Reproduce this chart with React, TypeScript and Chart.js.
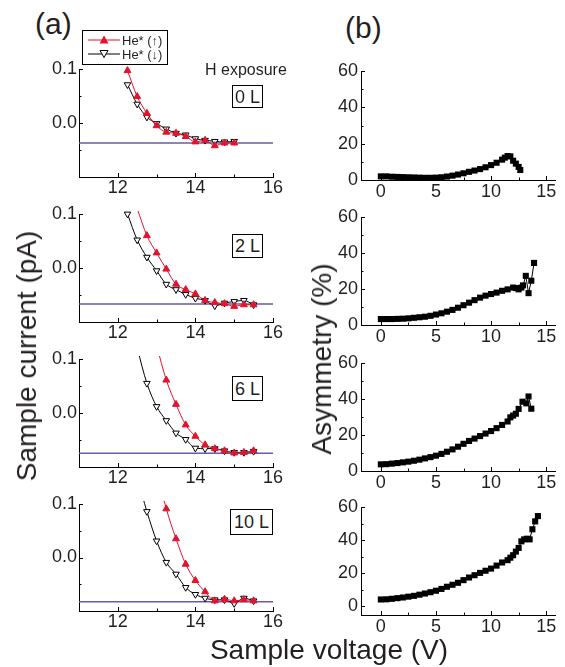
import React, { useEffect, useRef } from 'react';
import { Chart, registerables } from 'chart.js';

Chart.register(...registerables);

const FONT = '"Liberation Sans", Arial, Helvetica, sans-serif';
const TXT = '#231f20';
const RED = '#e3122d';
const PURPLE = '#6a5aa8';

// ---------- panel (a): sample current (pA) vs sample voltage (V) ----------
const voltsA0 = [12.25, 12.5, 12.75, 13.0, 13.25, 13.5, 13.75, 14.0, 14.25, 14.5, 14.75, 15.0];
const upA0 = [0.097, 0.049, 0.018, -0.005, -0.017, -0.019, -0.025, -0.035, -0.032, -0.042, -0.037, -0.037];
const downA0 = [0.071, 0.035, 0.011, -0.001, -0.011, -0.019, -0.022, -0.029, -0.032, -0.034, -0.035, -0.034];
const baseA0 = -0.037;

const voltsA2Down = [12.25, 12.5, 12.75, 13.0, 13.25, 13.5, 13.75, 14.0, 14.25, 14.5, 14.75, 15.0, 15.25, 15.5];
const downA2 = [0.1, 0.052, 0.02, -0.005, -0.03, -0.04, -0.049, -0.056, -0.06, -0.07, -0.065, -0.062, -0.06, -0.068];
const voltsA2Up = [12.5, 12.75, 13.0, 13.25, 13.5, 13.75, 14.0, 14.25, 14.5, 14.75, 15.0, 15.25, 15.5];
const upA2 = [0.11, 0.06, 0.028, -0.002, -0.03, -0.04, -0.048, -0.06, -0.064, -0.066, -0.071, -0.068, -0.068];
const baseA2 = -0.0667;

const voltsA6Down = [12.5, 12.75, 13.0, 13.25, 13.5, 13.75, 14.0, 14.25, 14.5, 14.75, 15.0, 15.25, 15.5];
const downA6 = [0.12, 0.055, 0.012, -0.014, -0.037, -0.049, -0.065, -0.066, -0.066, -0.07, -0.073, -0.073, -0.071];
const voltsA6Up = [13.0, 13.25, 13.5, 13.75, 14.0, 14.25, 14.5, 14.75, 15.0, 15.25, 15.5];
const upA6 = [0.125, 0.061, 0.016, -0.022, -0.043, -0.059, -0.066, -0.07, -0.074, -0.073, -0.07];
const baseA6 = -0.0745;

const voltsA10Down = [12.5, 12.75, 13.0, 13.25, 13.5, 13.75, 14.0, 14.25, 14.5, 14.75, 15.0, 15.25, 15.5];
const downA10 = [0.15, 0.086, 0.031, -0.009, -0.031, -0.056, -0.069, -0.076, -0.079, -0.079, -0.086, -0.076, -0.081];
const voltsA10Up = [13.0, 13.25, 13.5, 13.75, 14.0, 14.25, 14.5, 14.75, 15.0, 15.25, 15.5];
const upA10 = [0.16, 0.091, 0.035, -0.0125, -0.043, -0.064, -0.081, -0.078, -0.081, -0.079, -0.081];
const baseA10 = -0.0825;

const aXTicks = [12, 14, 16];
const aXMinor = [11, 13, 15];
const aYTicks = [0.0, 0.1];
const aYMinor = [-0.1, -0.05, 0.05];

// ---------- panel (b): asymmetry (%) vs sample voltage (V) ----------
const voltsB0 = [0, 0.5, 1, 1.5, 2, 2.5, 3, 3.5, 4, 4.5, 5, 5.5, 6, 6.5, 7, 7.5, 8, 8.5, 9, 9.5, 10, 10.5, 11, 11.25, 11.5, 11.75, 12.0, 12.25, 12.5, 12.65];
const asymB0 = [2.0, 2.0, 1.8, 1.7, 1.6, 1.5, 1.4, 1.3, 1.2, 1.2, 1.3, 1.5, 1.9, 2.4, 3.0, 3.7, 4.5, 5.2, 6.0, 7.0, 8.2, 9.5, 11.2, 12.3, 13.2, 13.0, 10.6, 9.0, 7.2, 5.5];

const voltsB2 = [0, 0.5, 1, 1.5, 2, 2.5, 3, 3.5, 4, 4.5, 5, 5.5, 6, 6.5, 7, 7.5, 8, 8.5, 9, 9.5, 10, 10.5, 11, 11.5, 12, 12.25, 12.5, 12.75, 12.9, 13.15, 13.4, 13.65, 13.9];
const asymB2 = [3.3, 3.3, 3.3, 3.4, 3.5, 3.7, 4.0, 4.3, 4.6, 5.1, 5.8, 6.5, 7.4, 8.4, 9.6, 11.0, 12.4, 13.8, 15.2, 16.3, 17.2, 18.0, 19.0, 19.8, 20.8, 20.5, 19.8, 20.8, 22.0, 27.3, 17.7, 24.6, 34.5];

const voltsB6 = [0, 0.5, 1, 1.5, 2, 2.5, 3, 3.5, 4, 4.5, 5, 5.5, 6, 6.5, 7, 7.5, 8, 8.5, 9, 9.5, 10, 10.5, 11, 11.5, 11.75, 12, 12.25, 12.5, 12.85, 13.2, 13.4, 13.65];
const asymB6 = [3.7, 3.8, 4.1, 4.4, 4.8, 5.2, 5.7, 6.3, 7.0, 7.7, 8.5, 9.5, 10.7, 12.0, 13.5, 15.1, 16.7, 18.0, 19.4, 20.8, 22.2, 23.8, 25.6, 27.5, 29.8, 30.8, 31.8, 34.5, 38.5, 37.6, 41.4, 34.6];

const voltsB10 = [0, 0.5, 1, 1.5, 2, 2.5, 3, 3.5, 4, 4.5, 5, 5.5, 6, 6.5, 7, 7.5, 8, 8.5, 9, 9.5, 10, 10.5, 11, 11.5, 11.75, 12, 12.25, 12.5, 12.75, 13.0, 13.25, 13.5, 13.75, 14.0, 14.25];
const asymB10 = [4.0, 4.1, 4.4, 4.8, 5.2, 5.7, 6.2, 6.9, 7.6, 8.4, 9.3, 10.4, 11.7, 12.9, 14.1, 15.7, 17.3, 18.7, 20.1, 21.4, 22.7, 24.5, 26.4, 27.8, 29.3, 30.8, 33.0, 35.2, 39.2, 40.4, 40.8, 40.4, 46.5, 51.3, 54.5];

const bXTicks = [0, 5, 10, 15];
const bXMinor = [2.5, 7.5, 12.5];
const bYTicks = [0, 20, 40, 60];
const bYMinor = [10, 30, 50];

const exposureLabels = ['0 L', '2 L', '6 L', '10 L'];

const toXY = (xs: number[], ys: number[]) => xs.map((x, i) => ({ x, y: ys[i] }));

// draws inward tick marks on the axes, using the chart's own scales
const innerTicks = {
  id: 'innerTicks',
  afterDraw(chart: any, _args: any, opts: any) {
    const { ctx, chartArea } = chart;
    const xs = chart.scales.x;
    const ys = chart.scales.y;
    ctx.save();
    ctx.strokeStyle = '#000';
    ctx.lineWidth = 1;
    const dx = (vals: number[], len: number) =>
      vals.forEach((v) => {
        const p = Math.round(xs.getPixelForValue(v)) + 0.5;
        ctx.beginPath();
        ctx.moveTo(p, chartArea.bottom);
        ctx.lineTo(p, chartArea.bottom - len);
        ctx.stroke();
      });
    const dy = (vals: number[], len: number) =>
      vals.forEach((v) => {
        const p = Math.round(ys.getPixelForValue(v)) + 0.5;
        ctx.beginPath();
        ctx.moveTo(chartArea.left, p);
        ctx.lineTo(chartArea.left + len, p);
        ctx.stroke();
      });
    dx(opts.xMajor || [], 4);
    dx(opts.xMinor || [], 2.5);
    dy(opts.yMajor || [], 4);
    dy(opts.yMinor || [], 2.5);
    ctx.restore();
  },
};

function axis(min: number, max: number, ticks: number[], fmt: (v: number) => string, pad: number, fit: (s: any) => void) {
  return {
    type: 'linear',
    min,
    max,
    grid: { display: false, drawTicks: false },
    border: { display: true, color: '#000', width: 1 },
    ticks: {
      font: { family: FONT, size: 18 },
      color: TXT,
      padding: pad,
      maxRotation: 0,
      autoSkip: false,
      callback: (v: any) => fmt(Number(v)),
    },
    afterBuildTicks: (s: any) => {
      s.ticks = ticks.map((value) => ({ value }));
    },
    afterFit: fit,
  };
}

function leftConfig(upX: number[], upY: number[], dnX: number[], dnY: number[], base: number) {
  const clip = { left: 0, right: 0, top: 3, bottom: 0 };
  return {
    type: 'line',
    data: {
      datasets: [
        {
          data: toXY(upX, upY),
          borderColor: RED,
          backgroundColor: RED,
          pointBackgroundColor: RED,
          pointBorderColor: RED,
          pointBorderWidth: 1,
          pointStyle: 'triangle',
          pointRadius: 4,
          borderWidth: 1,
          cubicInterpolationMode: 'monotone',
          clip,
        },
        {
          data: toXY(dnX, dnY),
          borderColor: '#000',
          backgroundColor: '#fff',
          pointBackgroundColor: '#fff',
          pointBorderColor: '#000',
          pointBorderWidth: 1,
          pointStyle: 'triangle',
          pointRotation: 180,
          pointRadius: 3.8,
          borderWidth: 1,
          cubicInterpolationMode: 'monotone',
          clip,
        },
        {
          data: [
            { x: 11, y: base },
            { x: 16, y: base },
          ],
          borderColor: PURPLE,
          borderWidth: 1.5,
          pointRadius: 0,
        },
      ],
    },
    options: {
      responsive: false,
      animation: false,
      events: [],
      layout: { padding: { left: 0, top: 15, right: 15, bottom: 0 } },
      plugins: {
        legend: { display: false },
        tooltip: { enabled: false },
        innerTicks: { xMajor: aXTicks, xMinor: aXMinor, yMajor: aYTicks, yMinor: aYMinor },
      },
      scales: {
        x: axis(11, 16, aXTicks, (v) => String(v), 0, (s: any) => { s.height = 30; }),
        y: axis(-0.1, 0.1, aYTicks, (v) => v.toFixed(1), 2, (s: any) => { s.width = 39; }),
      },
    },
    plugins: [innerTicks],
  };
}

function rightConfig(xs: number[], ys: number[], yMin: number) {
  return {
    type: 'line',
    data: {
      datasets: [
        {
          data: toXY(xs, ys),
          borderColor: '#000',
          backgroundColor: '#000',
          pointBackgroundColor: '#000',
          pointBorderWidth: 0,
          pointStyle: 'rect',
          pointRadius: 4.3,
          borderWidth: 1,
          tension: 0,
        },
      ],
    },
    options: {
      responsive: false,
      animation: false,
      events: [],
      layout: { padding: { left: 0, top: 15, right: 10, bottom: 0 } },
      plugins: {
        legend: { display: false },
        tooltip: { enabled: false },
        innerTicks: { xMajor: bXTicks, xMinor: bXMinor, yMajor: bYTicks, yMinor: bYMinor },
      },
      scales: {
        x: axis(-1.8, 15.8, bXTicks, (v) => String(v), 1, (s: any) => { s.height = 30; }),
        y: axis(yMin, 60, bYTicks, (v) => String(v), 3, (s: any) => { s.width = 51; }),
      },
    },
    plugins: [innerTicks],
  };
}

type Box = { left: number; top: number; width: number; height: number };

function ChartPanel({ box, make }: { box: Box; make: () => any }) {
  const ref = useRef<HTMLCanvasElement>(null);
  useEffect(() => {
    const chart = new Chart(ref.current as HTMLCanvasElement, make());
    return () => chart.destroy();
  }, []);
  return (
    <canvas
      ref={ref}
      width={box.width}
      height={box.height}
      style={{ position: 'absolute', left: box.left, top: box.top, width: box.width, height: box.height }}
    />
  );
}

const txt = (extra: React.CSSProperties): React.CSSProperties => ({
  position: 'absolute',
  fontFamily: FONT,
  color: TXT,
  lineHeight: 1,
  whiteSpace: 'nowrap',
  ...extra,
});

function BoxLabel({ text, left, top, width, height }: { text: string; left: number; top: number; width: number; height: number }) {
  return (
    <div
      style={txt({
        left,
        top,
        width,
        height,
        border: '1px solid #000',
        boxSizing: 'border-box',
        fontSize: 18,
        display: 'flex',
        alignItems: 'center',
        justifyContent: 'center',
        background: '#fff',
      })}
    >
      {text}
    </div>
  );
}

export default function App() {
  const leftPanels = [
    { box: { left: 40, top: 54, width: 248, height: 153 }, make: () => leftConfig(voltsA0, upA0, voltsA0, downA0, baseA0) },
    { box: { left: 40, top: 199, width: 248, height: 153 }, make: () => leftConfig(voltsA2Up, upA2, voltsA2Down, downA2, baseA2) },
    { box: { left: 40, top: 344, width: 248, height: 153 }, make: () => leftConfig(voltsA6Up, upA6, voltsA6Down, downA6, baseA6) },
    { box: { left: 40, top: 489, width: 248, height: 152 }, make: () => leftConfig(voltsA10Up, upA10, voltsA10Down, downA10, baseA10) },
  ];
  const rightPanels = [
    { box: { left: 310, top: 56, width: 255, height: 154 }, make: () => rightConfig(voltsB0, asymB0, 0) },
    { box: { left: 310, top: 202, width: 255, height: 153 }, make: () => rightConfig(voltsB2, asymB2, 0) },
    { box: { left: 310, top: 348, width: 255, height: 153 }, make: () => rightConfig(voltsB6, asymB6, 0) },
    { box: { left: 310, top: 492, width: 255, height: 153 }, make: () => rightConfig(voltsB10, asymB10, -5.4) },
  ];
  const boxes = [
    { left: 232, top: 85, width: 31, height: 23 },
    { left: 232, top: 234, width: 31, height: 24 },
    { left: 232, top: 376, width: 31, height: 25 },
    { left: 230, top: 509, width: 43, height: 26 },
  ];

  return (
    <div style={{ position: 'absolute', left: 0, top: 0, width: 565, height: 667, background: '#fff', overflow: 'hidden' }}>
      {leftPanels.map((p, i) => (
        <ChartPanel key={'a' + i} box={p.box} make={p.make} />
      ))}
      {rightPanels.map((p, i) => (
        <ChartPanel key={'b' + i} box={p.box} make={p.make} />
      ))}

      <div style={txt({ left: 35, top: 9, fontSize: 30 })}>(a)</div>
      <div style={txt({ left: 345, top: 13, fontSize: 30 })}>(b)</div>

      <div style={txt({ left: 205, top: 62, fontSize: 16 })}>H exposure</div>
      {boxes.map((b, i) => (
        <BoxLabel key={'l' + i} text={exposureLabels[i]} {...b} />
      ))}

      <div
        style={txt({
          left: 82,
          top: 30,
          width: 86,
          height: 35,
          border: '1px solid #000',
          boxSizing: 'border-box',
          background: '#fff',
          fontSize: 13,
        })}
      >
        <svg width={32} height={12} style={{ position: 'absolute', left: 5, top: 3 }}>
          <line x1={0} y1={6} x2={32} y2={6} stroke={RED} strokeWidth={1} />
          <polygon points="16,1.5 20.5,9.5 11.5,9.5" fill={RED} />
        </svg>
        <div style={{ position: 'absolute', left: 39, top: 3 }}>He* (↑)</div>
        <svg width={32} height={12} style={{ position: 'absolute', left: 5, top: 17 }}>
          <line x1={0} y1={6} x2={32} y2={6} stroke="#000" strokeWidth={1} />
          <polygon points="12,2.5 20,2.5 16,9.5" fill="#fff" stroke="#000" strokeWidth={1} />
        </svg>
        <div style={{ position: 'absolute', left: 39, top: 17 }}>He* (↓)</div>
      </div>

      <div style={txt({ left: 27, top: 356, fontSize: 28, transform: 'translate(-50%, -50%) rotate(-90deg)' })}>
        Sample current (pA)
      </div>
      <div style={txt({ left: 322, top: 359, fontSize: 28, transform: 'translate(-50%, -50%) rotate(-90deg)' })}>
        Asymmetry (%)
      </div>
      <div style={txt({ left: 329, top: 650, fontSize: 28, transform: 'translate(-50%, -50%)' })}>
        Sample voltage (V)
      </div>
    </div>
  );
}
